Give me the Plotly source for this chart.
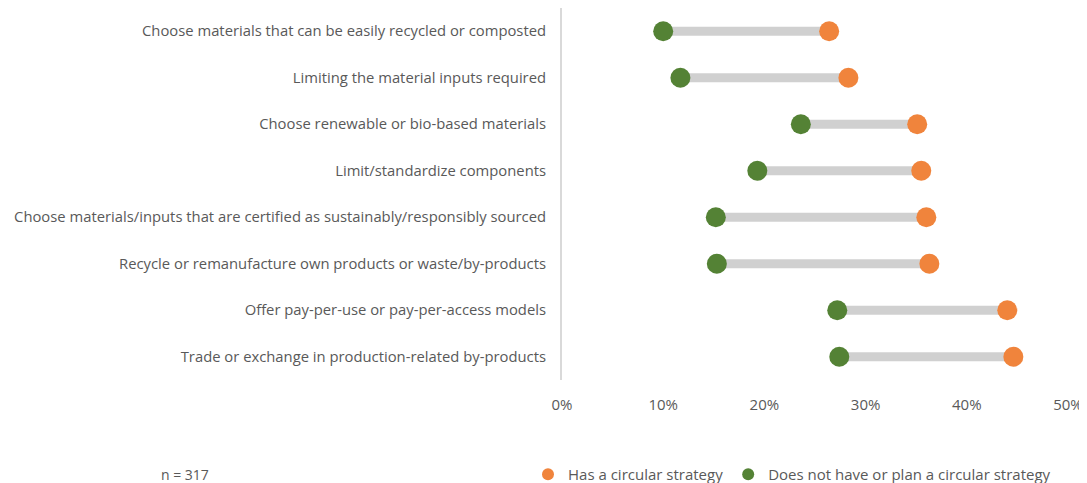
import plotly.graph_objects as go

categories = [
    "Choose materials that can be easily recycled or composted",
    "Limiting the material inputs required",
    "Choose renewable or bio-based materials",
    "Limit/standardize components",
    "Choose materials/inputs that are certified as sustainably/responsibly sourced",
    "Recycle or remanufacture own products or waste/by-products",
    "Offer pay-per-use or pay-per-access models",
    "Trade or exchange in production-related by-products",
]
has_strategy = [0.264, 0.283, 0.351, 0.355, 0.360, 0.363, 0.440, 0.446]
no_strategy = [0.100, 0.117, 0.236, 0.193, 0.152, 0.153, 0.272, 0.274]
series_names = ["Has a circular strategy", "Does not have or plan a circular strategy"]
tick_vals = [0, 0.1, 0.2, 0.3, 0.4, 0.5]
tick_text = ["0%", "10%", "20%", "30%", "40%", "50%"]
sample_note = "n = 317"

ORANGE = "#F0843C"
GREEN = "#548235"
TEXT = "#595959"
FONT = "Open Sans"

# page body adds an 8px offset; figure sized so the screenshot lines up
W, H = 1087, 483
L, T, B, R = 554, 0, 111, 27
plot_h = H - T - B
plot_w = W - L - R

line_x, line_y = [], []
for c, a, b in zip(categories, no_strategy, has_strategy):
    line_x += [a, b, None]
    line_y += [c, c, None]

fig = go.Figure()
fig.add_trace(go.Scatter(x=line_x, y=line_y, mode="lines",
                         line=dict(color="#D0D0D0", width=9),
                         showlegend=False, hoverinfo="skip"))
fig.add_trace(go.Scatter(x=has_strategy, y=categories, mode="markers",
                         name=series_names[0],
                         marker=dict(color=ORANGE, size=20)))
fig.add_trace(go.Scatter(x=no_strategy, y=categories, mode="markers",
                         name=series_names[1],
                         marker=dict(color=GREEN, size=20)))

fig.update_layout(
    width=W, height=H,
    margin=dict(l=L, r=R, t=T, b=B),
    paper_bgcolor="white", plot_bgcolor="white",
    font=dict(family=FONT, size=15, color=TEXT),
    xaxis=dict(range=[0, 0.5], tickvals=tick_vals, ticktext=tick_text,
               showgrid=False, zeroline=False, showline=False, automargin=False,
               ticks="", ticklabelstandoff=14, tickfont=dict(size=15, color=TEXT)),
    yaxis=dict(categoryorder="array", categoryarray=categories[::-1],
               range=[-0.5, len(categories) - 0.5],
               showgrid=False, zeroline=False, showline=True, automargin=False,
               linecolor="#D9D9D9", linewidth=2, ticks="",
               ticklabelstandoff=11, tickfont=dict(size=14.8, color=TEXT)),
    legend=dict(orientation="h", x=-34 / plot_w, xanchor="left",
                y=-78 / plot_h, yanchor="top",
                font=dict(size=15, color=TEXT), itemsizing="constant"),
    annotations=[dict(text=sample_note, xref="paper", yref="paper",
                      x=-377 / plot_w, y=-94 / plot_h,
                      xanchor="center", yanchor="middle", showarrow=False,
                      font=dict(size=14, color=TEXT))],
)

fig.write_html("out.html")
